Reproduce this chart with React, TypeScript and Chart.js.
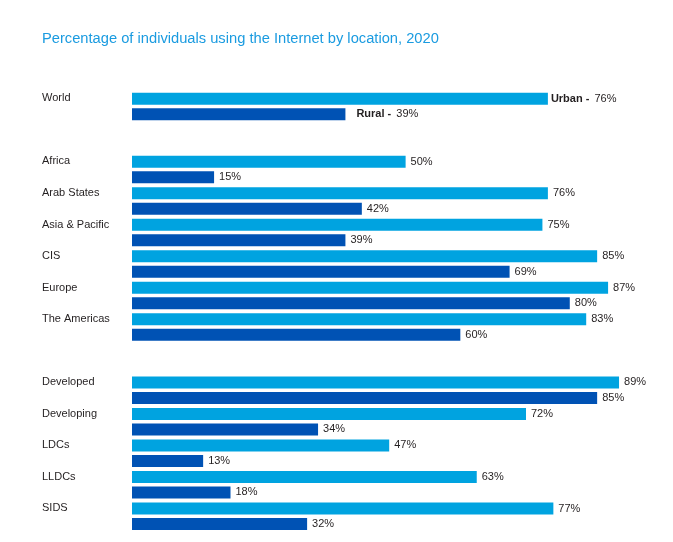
import React, { useEffect, useRef } from "react";
import { Chart, registerables } from "chart.js";

Chart.register(...registerables);

const TITLE = "Percentage of individuals using the Internet by location, 2020";
const categories = [
  "World",
  "",
  "Africa",
  "Arab States",
  "Asia & Pacific",
  "CIS",
  "Europe",
  "The Americas",
  "",
  "Developed",
  "Developing",
  "LDCs",
  "LLDCs",
  "SIDS",
];
const urban = [76, null, 50, 76, 75, 85, 87, 83, null, 89, 72, 47, 63, 77];
const rural = [39, null, 15, 42, 39, 69, 80, 60, null, 85, 34, 13, 18, 32];
const seriesNames = ["Urban", "Rural"];

const FONT = "'Liberation Sans', Arial, sans-serif";
const TEXT = "#231f20";

const valueLabels = {
  id: "valueLabels",
  afterDatasetsDraw(chart: any) {
    const ctx = chart.ctx;
    ctx.save();
    ctx.textBaseline = "middle";
    ctx.textAlign = "left";
    ctx.fillStyle = TEXT;
    chart.data.datasets.forEach((ds: any, di: number) => {
      const meta = chart.getDatasetMeta(di);
      meta.data.forEach((bar: any, i: number) => {
        const v = ds.data[i];
        if (v === null || v === undefined) return;
        let x = bar.x + 5;
        const y = bar.y;
        if (i === 0) {
          const prefix = seriesNames[di] + " - ";
          ctx.font = "bold 11px " + FONT;
          x = bar.x + (di === 0 ? 3 : 11);
          ctx.fillText(prefix, x, y);
          x += ctx.measureText(prefix).width + 2;
        }
        ctx.font = "11px " + FONT;
        ctx.fillText(v + "%", x, y);
      });
    });
    ctx.restore();
  },
};

export default function App() {
  const ref = useRef<HTMLCanvasElement>(null);
  useEffect(() => {
    if (!ref.current) return;
    const chart = new Chart(ref.current, {
      type: "bar",
      data: {
        labels: categories,
        datasets: [
          {
            label: seriesNames[0],
            data: urban,
            backgroundColor: "#00a3e0",
            barPercentage: 0.774,
            categoryPercentage: 0.984,
          },
          {
            label: seriesNames[1],
            data: rural,
            backgroundColor: "#0052b4",
            barPercentage: 0.774,
            categoryPercentage: 0.984,
          },
        ],
      },
      options: {
        indexAxis: "y",
        responsive: false,
        animation: false,
        layout: { padding: { left: 34, top: 10, right: 0, bottom: 2 } },
        plugins: {
          legend: { display: false },
          tooltip: { enabled: false },
          title: {
            display: true,
            text: TITLE,
            align: "start",
            color: "#1a9be0",
            font: { family: FONT, size: 14.7, weight: "normal", lineHeight: 1.2 },
            padding: { top: 12, bottom: 43 },
          },
        },
        scales: {
          x: {
            display: false,
            min: 0,
            max: 97.4,
          },
          y: {
            grid: { display: false },
            border: { display: false },
            ticks: {
              crossAlign: "far",
              labelOffset: -8,
              color: TEXT,
              font: { family: FONT, size: 11 },
              autoSkip: false,
            },
            afterFit(scale: any) {
              scale.width = 90;
              scale.paddingTop = 0;
              scale.paddingBottom = 0;
            },
          },
        },
      },
      plugins: [valueLabels],
    } as any);
    return () => chart.destroy();
  }, []);
  return <canvas ref={ref} width={657} height={526} style={{ display: "block" }} />;
}
